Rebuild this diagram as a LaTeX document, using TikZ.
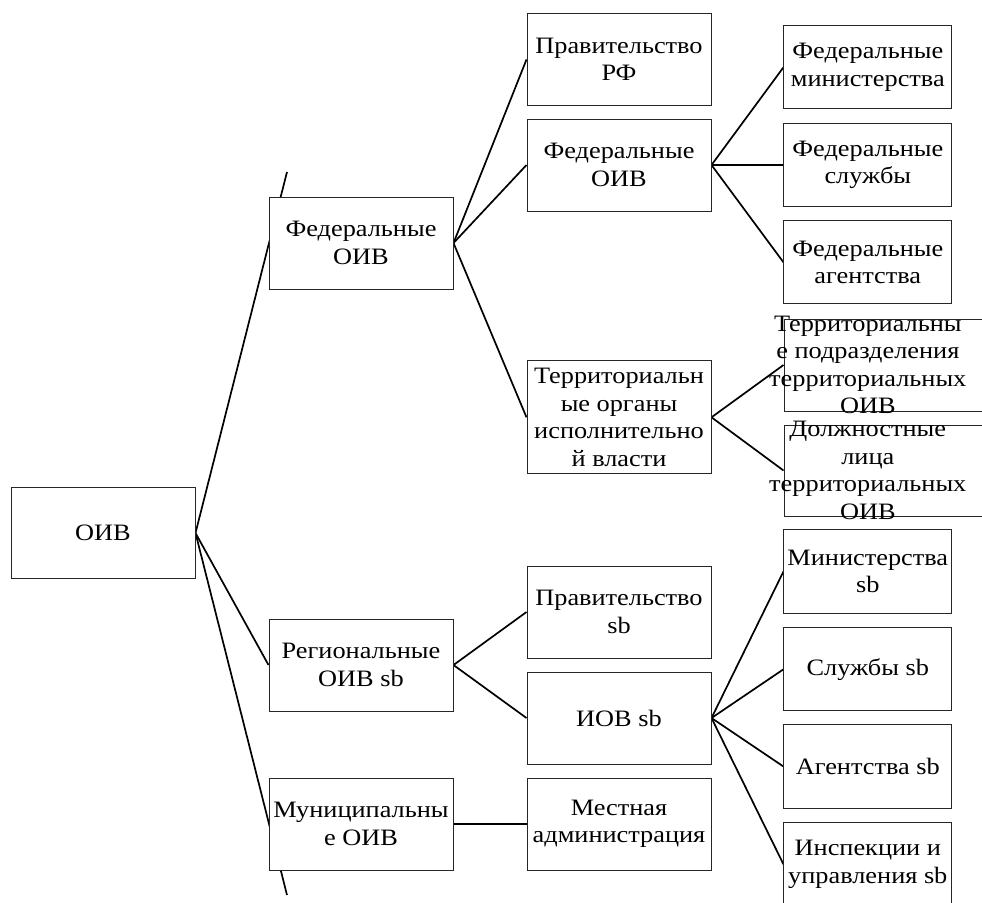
\documentclass[tikz,border=0pt]{standalone}
\usepackage{fontspec}
\setmainfont{Liberation Serif}[FakeStretch=1.12]
\usetikzlibrary{backgrounds}
\tikzset{
  box/.style={draw=black!85, line width=1pt, fill=white, inner sep=0pt, minimum width=184pt, minimum height=92pt},
  sbox/.style={box, minimum width=167.7pt, minimum height=83.3pt},
  txt/.style={inner sep=0pt, align=center, font=\fontsize{23.5}{27.5}\selectfont},
  conn/.style={line width=1.7pt, black}
}
\begin{document}
\begin{tikzpicture}[x=1pt,y=-1pt]
\useasboundingbox (0,0) rectangle (982,902);
% level 0
\node[box, minimum height=91.5pt] (oiv) at (103,533) {};
% level 1
\node[box] (fed1) at (361,243) {};
\node[box] (reg1) at (361,665) {};
\node[box] (mun1) at (361,824) {};
% level 2
\node[box, minimum height=91.6pt] (prf) at (619,59.5) {};
\node[box] (fed2) at (619,165) {};
\node[box, minimum height=113.3pt] (terr2) at (619,417.3) {};
\node[box] (prsb) at (619,612) {};
\node[box] (iovsb) at (619,718) {};
\node[box] (mest) at (619,824) {};
% level 3
\node[sbox] (fmin) at (867.8,67.3) {};
\node[sbox] (fsl) at (867.8,165) {};
\node[sbox] (fag) at (867.8,262.3) {};
\node[box, minimum width=200pt] (tpod) at (884,365) {};
\node[box, minimum width=200pt, minimum height=91pt] (dl) at (884,470.5) {};
\node[sbox] (minsb) at (867.8,571.5) {};
\node[sbox] (slsb) at (867.8,669.3) {};
\node[sbox] (agsb) at (867.8,766.5) {};
\node[sbox] (insp) at (867.8,864.3) {};
% texts
\node[txt] (t-oiv) at (oiv) {ОИВ};
\node[txt] (t-fed1) at (fed1) {Федеральные\\ОИВ};
\node[txt] (t-reg1) at (reg1) {Региональные\\ОИВ sb};
\node[txt] (t-mun1) at (mun1) {Муниципальны\\е ОИВ};
\node[txt] (t-prf) at (prf) {Правительство\\РФ};
\node[txt] (t-fed2) at (fed2) {Федеральные\\ОИВ};
\node[txt] (t-terr2) at (terr2) {Территориальн\\ые органы\\исполнительно\\й власти};
\node[txt] (t-prsb) at (prsb) {Правительство\\sb};
\node[txt] (t-iovsb) at (iovsb) {ИОВ sb};
\node[txt] (t-mest) at (mest) {Местная\\администрация};
\node[txt] (t-fmin) at (fmin) {Федеральные\\министерства};
\node[txt] (t-fsl) at (fsl) {Федеральные\\службы};
\node[txt] (t-fag) at (fag) {Федеральные\\агентства};
\node[txt] (t-tpod) at (867.8,365) {Территориальны\\е подразделения\\территориальных\\ОИВ};
\node[txt] (t-dl) at (867.8,470.5) {Должностные\\лица\\территориальных\\ОИВ};
\node[txt] (t-minsb) at (minsb) {Министерства\\sb};
\node[txt] (t-slsb) at (slsb) {Службы sb};
\node[txt] (t-agsb) at (agsb) {Агентства sb};
\node[txt] (t-insp) at (insp) {Инспекции и\\управления sb};
% free ends of the bracket lines
\coordinate (ftop) at (287,172);
\coordinate (fbot) at (287,895);
\begin{pgfonlayer}{background}
\fill[white] (0,0) rectangle (982,902);
\draw[conn] (oiv.east) -- (ftop);
\draw[conn] (oiv.east) -- (reg1.west);
\draw[conn] (oiv.east) -- (fbot);
\draw[conn] (fed1.east) -- (prf.west);
\draw[conn] (fed1.east) -- (fed2.west);
\draw[conn] (fed1.east) -- (terr2.west);
\draw[conn] (fed2.east) -- (fmin.west);
\draw[conn] (fed2.east) -- (fsl.west);
\draw[conn] (fed2.east) -- (fag.west);
\draw[conn] (terr2.east) -- (tpod.west);
\draw[conn] (terr2.east) -- (dl.west);
\draw[conn] (reg1.east) -- (prsb.west);
\draw[conn] (reg1.east) -- (iovsb.west);
\draw[conn] (mun1.east) -- (mest.west);
\draw[conn] (iovsb.east) -- (minsb.west);
\draw[conn] (iovsb.east) -- (slsb.west);
\draw[conn] (iovsb.east) -- (agsb.west);
\draw[conn] (iovsb.east) -- (insp.west);
\end{pgfonlayer}
\end{tikzpicture}
\end{document}
